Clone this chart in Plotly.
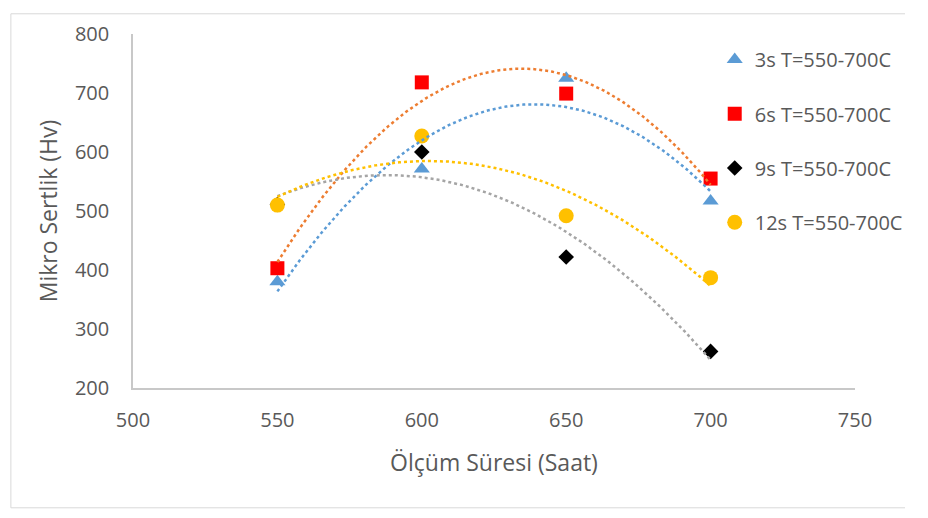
import numpy as np
import plotly.graph_objects as go

# Data
hours = [550, 600, 650, 700]
s3 = [380, 571, 725, 517]
s6 = [403, 718, 699, 555]
s9 = [511, 600, 422, 262]
s12 = [510, 627, 492, 387]

names = ["3s T=550-700C", "6s T=550-700C", "9s T=550-700C", "12s T=550-700C"]
marker_colors = ["#5B9BD5", "#FF0000", "#000000", "#FFC000"]
trend_colors = ["#5B9BD5", "#ED7D31", "#A5A5A5", "#FFC000"]
symbols = ["triangle-up", "square", "diamond", "circle"]
sizes = [14, 14, 12, 15]
series = [s3, s6, s9, s12]

x_ticks = [500, 550, 600, 650, 700, 750]
y_ticks = [200, 300, 400, 500, 600, 700, 800]

FONT = "Open Sans"
GRAY = "#595959"

fig = go.Figure()

for i, (nm, ys) in enumerate(zip(names, series)):
    fig.add_trace(go.Scatter(
        x=hours, y=ys, mode="markers", name=nm, legendgroup=nm,
        marker=dict(symbol=symbols[i], size=sizes[i], color=marker_colors[i],
                    line=dict(width=0)),
        cliponaxis=False,
    ))

# Polynomial (order 2) trendlines: least-squares fit of the data above
xs = np.linspace(min(hours), max(hours), 200)
for i, ys in enumerate(series):
    c = np.polyfit(hours, ys, 2)
    fig.add_trace(go.Scatter(
        x=xs, y=np.polyval(c, xs), mode="lines", showlegend=False,
        line=dict(color=trend_colors[i], width=2.5, dash="dot"),
        hoverinfo="skip", cliponaxis=False,
    ))

# the page body has an 8px margin, so the figure sits at (8, 8)
OFF = 8
L, R, T, B = 133 - OFF, 869 - OFF, 29 - OFF, 388 - OFF
W, H = 928 - 2 * OFF, 518 - 2 * OFF


def px(x):
    return (x - OFF - L) / (R - L)


def py(y):
    return (B - (y - OFF)) / (B - T)


frame = dict(color="#D9D9D9", width=1)
shapes = [
    dict(type="line", xref="paper", yref="paper", x0=px(8.5), x1=px(8.5),
         y0=py(8.5), y1=py(509.5), line=frame, layer="below"),
    dict(type="line", xref="paper", yref="paper", x0=px(8.5), x1=px(920),
         y0=py(8.5), y1=py(8.5), line=frame, layer="below"),
    dict(type="line", xref="paper", yref="paper", x0=px(8.5), x1=px(920),
         y0=py(509.5), y1=py(509.5), line=frame, layer="below"),
]

fig.update_layout(
    width=W, height=H,
    margin=dict(l=L, r=W - R, t=T, b=H - B),
    paper_bgcolor="white", plot_bgcolor="white",
    font=dict(family=FONT, size=20, color=GRAY),
    legend=dict(
        x=px(726), xanchor="left",
        y=py(35), yanchor="top",
        bgcolor="rgba(0,0,0,0)", tracegroupgap=25.3,
        font=dict(family=FONT, size=20, color=GRAY),
        itemsizing="trace",
    ),
    xaxis=dict(
        range=[500, 750], tickvals=x_ticks, showgrid=False, zeroline=False,
        showline=True, linecolor="#C8C8C8", linewidth=1.5, ticks="",
        ticklabelstandoff=13,
        tickfont=dict(family=FONT, size=20, color=GRAY),
        title=dict(text="Ölçüm Süresi (Saat)", standoff=23,
                   font=dict(family=FONT, size=23, color=GRAY)),
    ),
    yaxis=dict(
        range=[200, 800], tickvals=y_ticks, showgrid=False, zeroline=False,
        showline=True, linecolor="#C8C8C8", linewidth=1.5, ticks="",
        ticklabelstandoff=18,
        tickfont=dict(family=FONT, size=20, color=GRAY),
        title=dict(text="Mikro Sertlik (Hv)", standoff=11,
                   font=dict(family=FONT, size=23, color=GRAY)),
    ),
    shapes=shapes,
)

fig.write_html("out.html")
